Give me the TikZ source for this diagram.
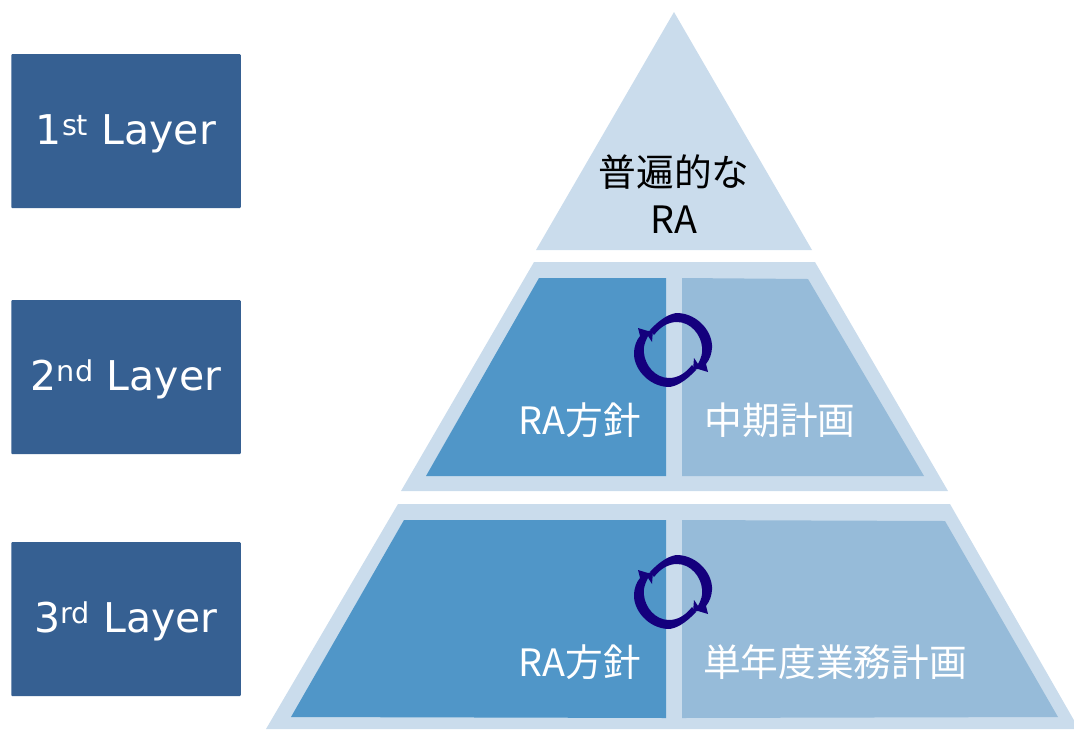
\documentclass[tikz,border=0pt]{standalone}
\usepackage{fontspec}
\setmainfont{DejaVu Sans}
\newfontfamily\jpfont{Noto Sans CJK JP}
\definecolor{layercolor}{RGB}{54, 96, 146}
\definecolor{palecolor}{RGB}{202, 220, 236}
\definecolor{policycolor}{RGB}{80, 150, 200}
\definecolor{plancolor}{RGB}{150, 187, 217}
\definecolor{cyclecolor}{RGB}{20, 0, 125}

\begin{document}
\begin{tikzpicture}[
    x=1pt, y=-1pt,
    layer/.style={rectangle, rounded corners=1pt, fill=layercolor, minimum width=229.5pt, minimum height=154pt, inner sep=0pt, text=white, text height=27pt, text depth=0pt, font=\fontsize{41}{48}\selectfont},
    tier/.style={fill=palecolor},
    policy/.style={fill=policycolor},
    plan/.style={fill=plancolor},
    jptext/.style={inner sep=0pt, align=center, font=\fontsize{37.7}{47}\selectfont\jpfont},
    halfcycle/.pic={
        \fill[cyclecolor] (-23,-20) .. controls (-12,-32) and (-2,-37) .. (5,-37)
            .. controls (25,-36) and (40,-18) .. (39,-2)
            .. controls (38.5,4) and (37,9) .. (33,14)
            -- (35,22) -- (25,19) -- (20,20) -- (21,8) -- (25,14)
            .. controls (28,8) and (30,3) .. (29,-3)
            .. controls (28,-15) and (18,-28) .. (4,-28)
            .. controls (-4,-28) and (-12,-24) .. (-19,-15) -- cycle;
    }
]
\useasboundingbox (0, 0) rectangle (1074, 729);

% Layer boxes
\node[layer] (first) at (126, 131) {1\textsuperscript{st} Layer};
\node[layer] (second) at (126, 377) {2\textsuperscript{nd} Layer};
\node[layer] (third) at (126, 619) {3\textsuperscript{rd} Layer};

% Pyramid
\fill[tier] (674, 12) -- (812, 250) -- (536, 250) -- cycle;
\fill[tier] (534, 262) -- (815, 262) -- (948, 491) -- (401, 491) -- cycle;
\fill[tier] (398, 504) -- (950, 504) -- (1079, 729) -- (266, 729) -- cycle;

% Middle tier
\fill[policy] (539, 278) -- (666, 278) -- (666, 476) -- (426, 476) -- cycle;
\fill[plan] (682, 278) -- (808, 279) -- (924, 476) -- (682, 476) -- cycle;

% Bottom tier
\fill[policy] (404, 520) -- (666, 520) -- (666, 718) -- (291, 717) -- cycle;
\fill[plan] (682, 520) -- (945, 521) -- (1058, 717) -- (682, 718) -- cycle;

% Cycle arrows
\pic at (673, 350) {halfcycle};
\pic[rotate=180] at (673, 350) {halfcycle};
\pic at (673, 592) {halfcycle};
\pic[rotate=180] at (673, 592) {halfcycle};

% Texts
\node[jptext] (top) at (674, 194) {普遍的な\\RA};
\node[jptext, text=white] (policytwo) at (580, 420) {RA方針};
\node[jptext, text=white] (plantwo) at (780, 420) {中期計画};
\node[jptext, text=white] (policythree) at (580, 662) {RA方針};
\node[jptext, text=white] (planthree) at (835, 662) {単年度業務計画};
\end{tikzpicture}
\end{document}
